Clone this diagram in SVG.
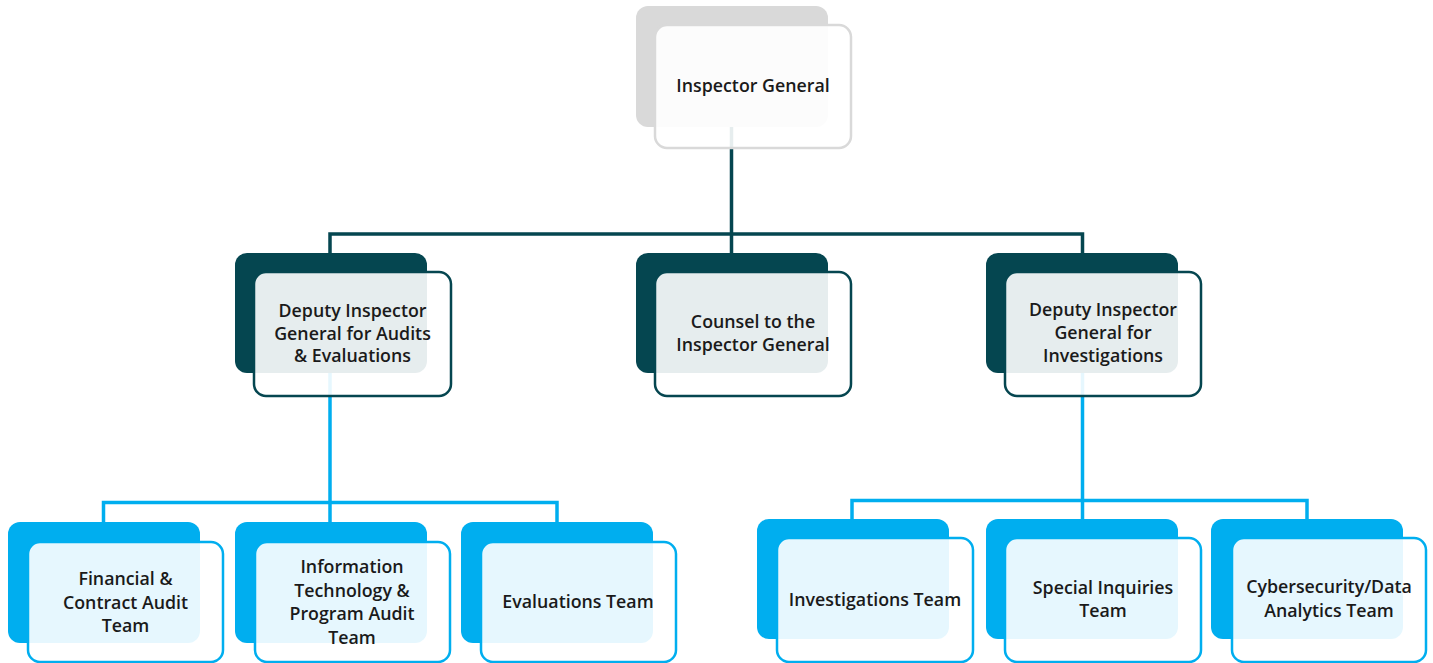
<svg xmlns="http://www.w3.org/2000/svg" width="1433" height="663" viewBox="0 0 1433 663">
  <style>
    .bg { fill: #ffffff; }
    .conn-dark { fill: none; stroke: #054650; stroke-width: 3.5; stroke-linejoin: miter; }
    .conn-blue { fill: none; stroke: #00aeef; stroke-width: 3.5; stroke-linejoin: miter; }
    .back-grey { fill: #d9d9d9; }
    .back-dark { fill: #054650; }
    .back-blue { fill: #00aeef; }
    .front { fill: #ffffff; fill-opacity: 0.9; stroke-width: 2.5; }
    .front-grey { stroke: #d9d9d9; }
    .front-dark { stroke: #054650; }
    .front-blue { stroke: #00aeef; }
    .label { font-family: "Open Sans", Lato, "Liberation Sans", sans-serif; font-size: 17.8px; font-weight: 600; fill: #1a1a1a; text-anchor: middle; }
  </style>

  <rect class="bg" x="0" y="0" width="1433" height="663"/>

  <!-- connectors -->
  <g id="connectors">
    <path class="conn-dark" d="M731.5 110 V253 M330 253 V234 H1082.5 V253"/>
    <path class="conn-blue" d="M330 360 V522 M103.5 522 V502.5 H557 V522"/>
    <path class="conn-blue" d="M1082.5 360 V519 M852 519 V500.5 H1307 V519"/>
  </g>

  <!-- level 1 -->
  <g id="inspector-general">
    <rect class="back-grey" x="636" y="6" width="192" height="121" rx="12"/>
    <rect class="front front-grey" x="655" y="25" width="196" height="123" rx="12"/>
    <text class="label" x="753" y="92">Inspector General</text>
  </g>

  <!-- level 2 -->
  <g id="deputy-audits">
    <rect class="back-dark" x="235" y="253" width="192" height="120" rx="12"/>
    <rect class="front front-dark" x="254" y="272" width="197" height="124" rx="12"/>
    <text class="label" x="352.5" y="317">Deputy Inspector</text>
    <text class="label" x="352.5" y="339.5">General for Audits</text>
    <text class="label" x="352.5" y="362">&amp; Evaluations</text>
  </g>

  <g id="counsel">
    <rect class="back-dark" x="636" y="253" width="192" height="120" rx="12"/>
    <rect class="front front-dark" x="655" y="272" width="196" height="124" rx="12"/>
    <text class="label" x="753" y="328">Counsel to the</text>
    <text class="label" x="753" y="351">Inspector General</text>
  </g>

  <g id="deputy-investigations">
    <rect class="back-dark" x="986" y="253" width="192" height="120" rx="12"/>
    <rect class="front front-dark" x="1005" y="272" width="196" height="124" rx="12"/>
    <text class="label" x="1103" y="316">Deputy Inspector</text>
    <text class="label" x="1103" y="339">General for</text>
    <text class="label" x="1103" y="362">Investigations</text>
  </g>

  <!-- level 3: audits & evaluations -->
  <g id="financial-contract-audit">
    <rect class="back-blue" x="8" y="522" width="192" height="121" rx="12"/>
    <rect class="front front-blue" x="28" y="542" width="195" height="120" rx="12"/>
    <text class="label" x="125.5" y="585">Financial &amp;</text>
    <text class="label" x="125.5" y="609">Contract Audit</text>
    <text class="label" x="125.5" y="632">Team</text>
  </g>

  <g id="it-program-audit">
    <rect class="back-blue" x="235" y="522" width="192" height="121" rx="12"/>
    <rect class="front front-blue" x="255" y="542" width="195" height="120" rx="12"/>
    <text class="label" x="352" y="573">Information</text>
    <text class="label" x="352" y="597">Technology &amp;</text>
    <text class="label" x="352" y="620">Program Audit</text>
    <text class="label" x="352" y="644">Team</text>
  </g>

  <g id="evaluations">
    <rect class="back-blue" x="461" y="522" width="192" height="121" rx="12"/>
    <rect class="front front-blue" x="481" y="542" width="195" height="120" rx="12"/>
    <text class="label" x="578" y="608">Evaluations Team</text>
  </g>

  <!-- level 3: investigations -->
  <g id="investigations-team">
    <rect class="back-blue" x="757" y="519" width="192" height="120" rx="12"/>
    <rect class="front front-blue" x="777" y="538" width="196" height="124" rx="12"/>
    <text class="label" x="875" y="606">Investigations Team</text>
  </g>

  <g id="special-inquiries">
    <rect class="back-blue" x="986" y="519" width="192" height="120" rx="12"/>
    <rect class="front front-blue" x="1005" y="538" width="196" height="124" rx="12"/>
    <text class="label" x="1103" y="594">Special Inquiries</text>
    <text class="label" x="1103" y="617">Team</text>
  </g>

  <g id="cybersecurity-data-analytics">
    <rect class="back-blue" x="1211" y="519" width="192" height="120" rx="12"/>
    <rect class="front front-blue" x="1232" y="538" width="194" height="124" rx="12"/>
    <text class="label" x="1329" y="593">Cybersecurity/Data</text>
    <text class="label" x="1329" y="617">Analytics Team</text>
  </g>
</svg>
